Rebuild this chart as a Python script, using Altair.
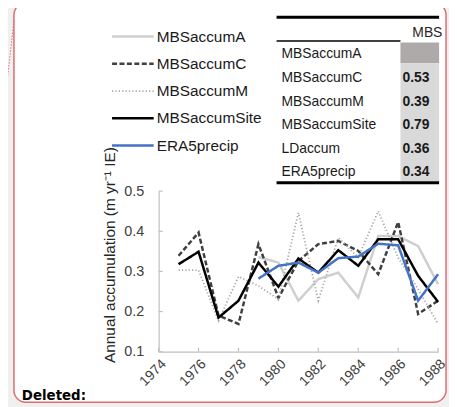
import altair as alt
import pandas as pd

# ---------------- data ----------------
years = list(range(1975, 1989))
mbs_a = [None, None, None, None, 0.336, 0.322, 0.227, 0.281, 0.297, 0.235, 0.388, 0.388, 0.363, 0.268]
mbs_c = [0.339, 0.397, 0.190, 0.169, 0.368, 0.234, 0.326, 0.368, 0.376, 0.351, 0.293, 0.423, 0.194, 0.227]
mbs_m = [0.303, 0.303, 0.177, 0.287, 0.264, 0.231, 0.446, 0.227, 0.384, 0.335, 0.450, 0.334, 0.256, 0.169]
mbs_site = [0.318, 0.349, 0.185, 0.227, 0.322, 0.262, 0.332, 0.297, 0.353, 0.314, 0.380, 0.380, 0.289, 0.224]
era5 = [None, None, None, None, 0.282, 0.314, 0.322, 0.297, 0.333, 0.337, 0.369, 0.365, 0.227, 0.293]

series_names = ["MBSaccumA", "MBSaccumC", "MBSaccumM", "MBSaccumSite", "ERA5precip"]
series_values = [mbs_a, mbs_c, mbs_m, mbs_site, era5]
series_colors = ["#cfcfcf", "#404040", "#a6a6a6", "#000000", "#4472c4"]
series_dash = [[1, 0], [5, 2.5], [1.2, 2.2], [1, 0], [1, 0]]
series_width = [2.5, 2.5, 1.8, 2.5, 2.5]

table_rows = ["MBSaccumA", "MBSaccumC", "MBSaccumM", "MBSaccumSite", "LDaccum", "ERA5precip"]
table_vals = ["", "0.53", "0.39", "0.79", "0.36", "0.34"]
table_header = "MBS"

x_ticks = [1974, 1976, 1978, 1980, 1982, 1984, 1986, 1988]
y_ticks = [0.1, 0.2, 0.3, 0.4, 0.5]
y_title = "Annual accumulation (m yr\u207b\u00b9 IE)"

# ---------------- build ----------------
rows = []
for name, vals in zip(series_names, series_values):
    for yr, v in zip(years, vals):
        if v is not None:
            rows.append({"year": yr, "value": v, "series": name})
df = pd.DataFrame(rows)
one = pd.DataFrame({"k": [0]})

FONT = "Liberation Sans"
W, H = 282, 162

x_enc = alt.X("year:Q", scale=alt.Scale(domain=[1974, 1988], nice=False, zero=False),
              axis=alt.Axis(values=x_ticks, format="d", labelAngle=315, labelFontSize=14,
                            labelFont=FONT, labelColor="#404040", labelPadding=5,
                            domainColor="#bfbfbf", domainWidth=1.2, ticks=False, grid=False,
                            title=None, labelOverlap=False, labelFlush=False, zindex=1))
y_enc = alt.Y("value:Q", scale=alt.Scale(domain=[0.1, 0.5], nice=False, zero=False),
              axis=alt.Axis(values=y_ticks, format=".1f", labelFontSize=14.5, labelFont=FONT,
                            labelColor="#404040", labelPadding=15, domainColor="#bfbfbf",
                            domainWidth=1.2, ticks=False, grid=False, title=y_title,
                            titleFont=FONT, titleFontSize=15.5, titleFontWeight="normal",
                            titleColor="#262626", titleAngle=270, titleX=-50, titleY=64,
                            titleAlign="center", titleBaseline="middle", labelFlush=False,
                            zindex=1))


def rule(x1, x2, y1, y2, color, width, dash=None):
    kw = dict(color=color, strokeWidth=width)
    if dash is not None:
        kw["strokeDash"] = dash
    return alt.Chart(one).mark_rule(**kw).encode(
        x=alt.value(x1), x2=alt.value(x2), y=alt.value(y1), y2=alt.value(y2))


def rect(x1, x2, y1, y2, fill, stroke=None, sw=0, radius=0):
    kw = dict(fill=fill, cornerRadius=radius)
    if stroke is not None:
        kw["stroke"] = stroke
        kw["strokeWidth"] = sw
    return alt.Chart(one).mark_rect(**kw).encode(
        x=alt.value(x1), x2=alt.value(x2), y=alt.value(y1), y2=alt.value(y2))


def label(text, x, y, size, weight="normal", font=FONT, color="#000000", align="left",
          baseline="middle"):
    return alt.Chart(one).mark_text(font=font, fontSize=size, fontWeight=weight, color=color,
                                    align=align, baseline=baseline).encode(
        x=alt.value(x), y=alt.value(y), text=alt.value(text))


layers = []
# page box
layers.append(rect(-146, 290, -190, 213, "#ffffff", stroke="#e06c6c", sw=1.5, radius=12))
layers.append(rule(-146, -162, -172, -30, "#e07070", 1, dash=[1.5, 1.5]))
layers.append(label("Deleted:", -138, 211, 13.5, weight="bold", font="DejaVu Sans",
                    color="#000000", baseline="alphabetic"))

# table
layers.append(rect(244, 283, -150, -129, "#aeaaaa"))
layers.append(rect(244, 283, -129, -10, "#d9d9d9"))
layers.append(rule(119, 283, -175.5, -175.5, "#000000", 3))
layers.append(rule(119, 244, -151.5, -151.5, "#000000", 1.5))
layers.append(rule(119, 283, -8.5, -8.5, "#000000", 3))
layers.append(label(table_header, 256, -160, 14, color="#262626"))
for i, (r, v) in enumerate(zip(table_rows, table_vals)):
    yy = -138 + i * 23.8
    layers.append(label(r, 124, yy, 14, color="#1a1a1a"))
    if v:
        layers.append(label(v, 246, yy, 14, weight="bold", color="#1a1a1a"))

# legend
for i, (n, c, d, w) in enumerate(zip(series_names, series_colors, series_dash, series_width)):
    yy = -156 + i * 27.5
    layers.append(rule(-47, -5, yy, yy, c, w, dash=d))
    layers.append(label(n, -2, yy, 15.5, color="#1a1a1a"))

# inner ticks
xt = pd.DataFrame({"year": x_ticks})
yt = pd.DataFrame({"value": y_ticks})
layers.append(alt.Chart(xt).mark_rule(color="#bfbfbf", strokeWidth=1.2).encode(
    x=x_enc, y=alt.value(H), y2=alt.value(H - 4)))
layers.append(alt.Chart(yt).mark_rule(color="#bfbfbf", strokeWidth=1.2).encode(
    y=y_enc, x=alt.value(0), x2=alt.value(4)))

# series lines
for n, c, d, w in zip(series_names, series_colors, series_dash, series_width):
    sub = df[df["series"] == n]
    layers.append(alt.Chart(sub).mark_line(color=c, strokeDash=d, strokeWidth=w).encode(
        x=x_enc, y=y_enc))

chart = alt.layer(*layers).properties(
    width=W, height=H,
    autosize=alt.AutoSizeParams(type="none"),
    padding={"left": 152, "top": 183, "right": 11, "bottom": 54},
    background="#f0f0f0",
).configure_view(stroke=None)

chart.save("out.html", embed_options={"renderer": "svg", "actions": False})
